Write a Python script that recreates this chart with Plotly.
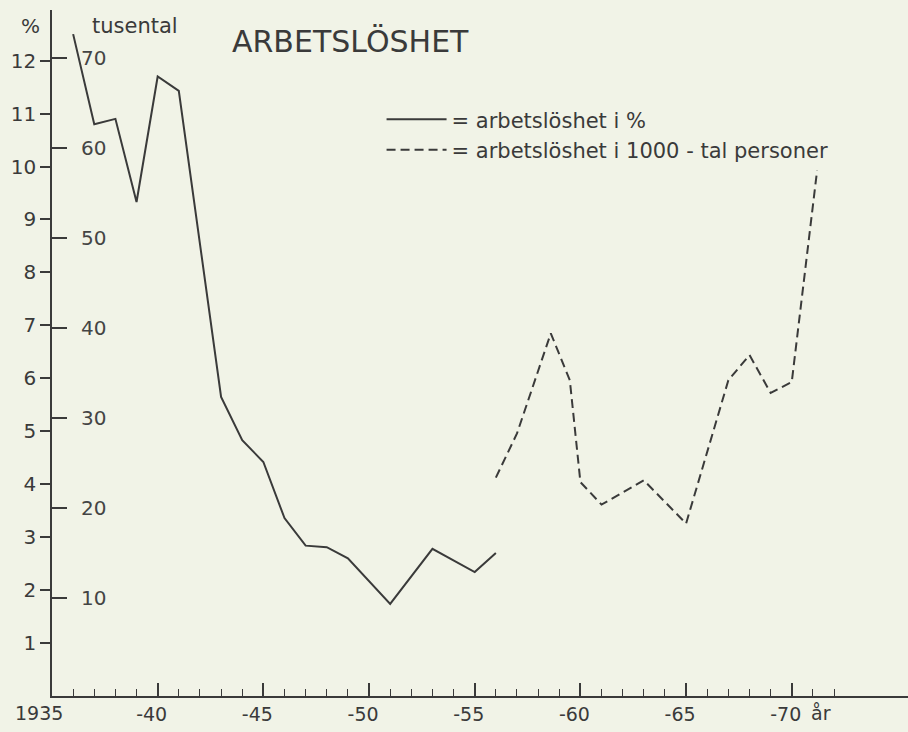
import plotly.graph_objects as go

# --- data ---
pct_years = [1936, 1937, 1938, 1939, 1940, 1941, 1943, 1944, 1945, 1946, 1947, 1948, 1949, 1951, 1953, 1955, 1956]
pct_values = [12.5, 10.8, 10.9, 9.33, 11.7, 11.43, 5.65, 4.83, 4.42, 3.36, 2.84, 2.81, 2.6, 1.74, 2.78, 2.34, 2.7]

thou_years = [1956, 1957, 1958.6, 1959.5, 1960, 1961, 1963, 1965, 1967, 1968, 1969, 1970, 1971.2]
thou_values = [23.4, 28.3, 39.4, 34.2, 22.9, 20.4, 23.1, 18.3, 34.2, 37.0, 32.8, 34.0, 57.5]

pct_ticks = [1, 2, 3, 4, 5, 6, 7, 8, 9, 10, 11, 12]
thou_ticks = [10, 20, 30, 40, 50, 60, 70]
year_ticks = [1935, 1940, 1945, 1950, 1955, 1960, 1965, 1970]
year_labels = ["1935", "-40", "-45", "-50", "-55", "-60", "-65", "-70"]
minor_years = list(range(1936, 1973))

INK = "#3a3a3a"
BG = "#f1f3e7"
FONT = "DejaVu Sans"
X_RANGE = [1935, 1975.5]

fig = go.Figure()
fig.add_trace(go.Scatter(x=pct_years, y=pct_values, mode="lines",
                         line=dict(color=INK, width=2),
                         name="= arbetslöshet i %", yaxis="y"))
fig.add_trace(go.Scatter(x=thou_years, y=thou_values, mode="lines",
                         line=dict(color=INK, width=2, dash="9px,5px"),
                         name="= arbetslöshet i 1000 - tal personer", yaxis="y2"))
# invisible carrier trace for the yearly (minor) tick axis
fig.add_trace(go.Scatter(x=[minor_years[0]], y=[0], mode="markers", xaxis="x2",
                         marker=dict(opacity=0), showlegend=False, hoverinfo="skip"))

# first tick label sits in the axis corner, where Plotly suppresses it: show it as text
tick_text_main = [""] + year_labels[1:]

fig.update_layout(
    width=908, height=732,
    margin=dict(l=52, r=0, t=10, b=36),
    paper_bgcolor=BG, plot_bgcolor=BG,
    font=dict(family=FONT, color=INK, size=19),
    showlegend=True,
    legend=dict(x=0.385, y=0.87, xanchor="left", yanchor="top", itemwidth=60,
                bgcolor="rgba(0,0,0,0)", font=dict(size=21), tracegroupgap=0),
    xaxis=dict(range=X_RANGE, showgrid=False, zeroline=False,
               showline=True, linecolor=INK, linewidth=1.5,
               tickmode="array", tickvals=year_ticks, ticktext=tick_text_main,
               ticks="inside", ticklen=13, tickwidth=1.5, tickcolor=INK,
               ticklabelshift=-6, ticklabeloverflow="allow",
               tickfont=dict(size=19)),
    xaxis2=dict(range=X_RANGE, overlaying="x", anchor="y", side="bottom",
                showgrid=False, zeroline=False, showline=False,
                tickmode="array", tickvals=minor_years, showticklabels=False,
                ticks="inside", ticklen=7, tickwidth=1.2, tickcolor=INK),
    yaxis=dict(range=[0, 12.956], showgrid=False, zeroline=False,
               showline=True, linecolor=INK, linewidth=1.5,
               tickmode="array", tickvals=pct_ticks,
               ticks="outside", ticklen=10, tickwidth=1.5, tickcolor=INK,
               tickfont=dict(size=20)),
    yaxis2=dict(range=[-0.84, 75.29], overlaying="y", side="left", anchor="x",
                showgrid=False, zeroline=False, showline=False,
                tickmode="array", tickvals=thou_ticks,
                ticks="inside", ticklen=15, tickwidth=1.5, tickcolor=INK,
                ticklabelposition="inside", ticklabelstandoff=15,
                tickfont=dict(size=20)),
)

fig.add_annotation(text=year_labels[0], xref="x", yref="paper", x=year_ticks[0], y=0,
                   xanchor="center", yanchor="top", xshift=-13, yshift=-4,
                   showarrow=False, font=dict(size=19))
fig.add_annotation(text="%", xref="paper", yref="paper", x=-0.012, y=1.0,
                   xanchor="right", yanchor="top", yshift=-2, showarrow=False,
                   font=dict(size=20))
fig.add_annotation(text="tusental", xref="paper", yref="paper", x=0.044, y=1.0,
                   xanchor="left", yanchor="top", yshift=-2, showarrow=False,
                   font=dict(size=21))
fig.add_annotation(text="ARBETSLÖSHET", xref="paper", yref="paper", x=0.208, y=1.0,
                   xanchor="left", yanchor="top", yshift=-12, showarrow=False,
                   font=dict(size=30))
fig.add_annotation(text="år", xref="x", yref="paper", x=1971.4, y=0,
                   xanchor="center", yanchor="top", yshift=-4, showarrow=False,
                   font=dict(size=19))

fig.write_html("out.html", config={"displayModeBar": False},
               post_script="document.body.style.margin='0px';")
